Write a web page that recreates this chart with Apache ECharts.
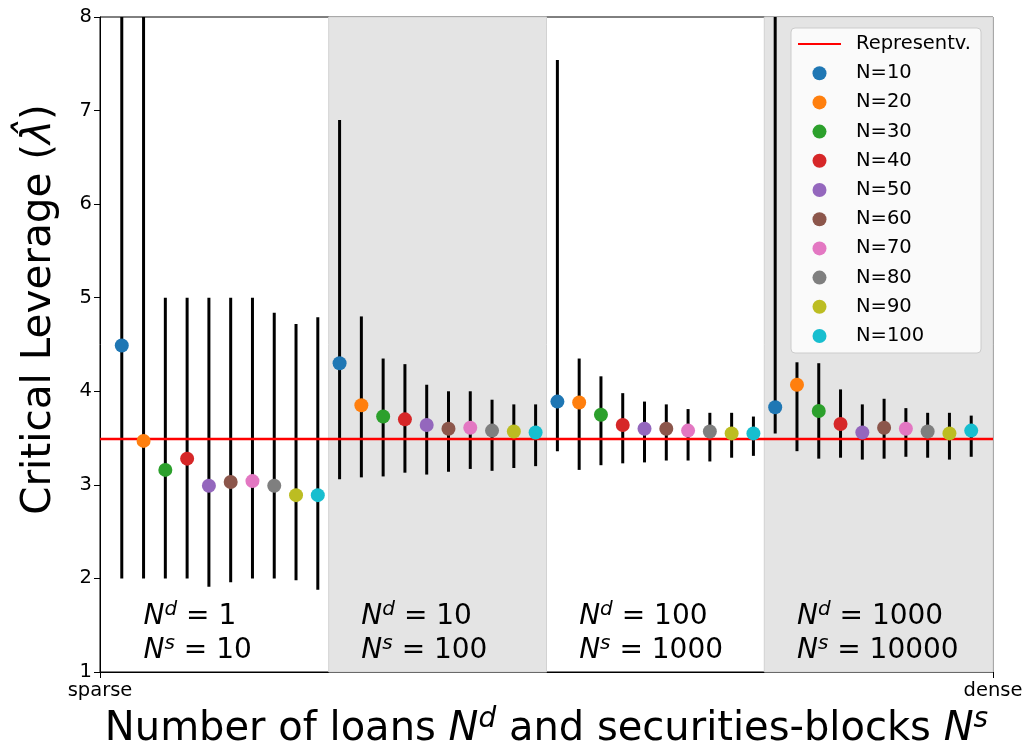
<!DOCTYPE html>
<html>
<head>
<meta charset="utf-8">
<script src="https://cdn.jsdelivr.net/npm/echarts@6/dist/echarts.min.js"></script>
<style>
  html, body { margin: 0; padding: 0; background: #ffffff; }
  #chart { width: 1023px; height: 749px; }
</style>
</head>
<body>
<div id="chart"></div>
<script>
// Ensemble sizes shown in every group, with their marker colours
const seriesNames = ['N=10', 'N=20', 'N=30', 'N=40', 'N=50', 'N=60', 'N=70', 'N=80', 'N=90', 'N=100'];
const seriesColors = ['#1f77b4', '#ff7f0e', '#2ca02c', '#d62728', '#9467bd',
                      '#8c564b', '#e377c2', '#7f7f7f', '#bcbd22', '#17becf'];

// Network configurations, from sparse to dense
const groupNd = ['1', '10', '100', '1000'];
const groupNs = ['10', '100', '1000', '10000'];

// Representative critical leverage
const representative = 3.49;

// Critical leverage per group: centre value, lower and upper end of the spread
const meanG1 = [4.49, 3.47, 3.16, 3.28, 2.99, 3.03, 3.04, 2.99, 2.89, 2.89];
const lowG1  = [2.00, 2.00, 2.00, 2.00, 1.91, 1.96, 2.00, 2.00, 1.98, 1.88];
const highG1 = [10.0, 10.0, 5.00, 5.00, 5.00, 5.00, 5.00, 4.84, 4.72, 4.79];

const meanG2 = [4.30, 3.85, 3.73, 3.70, 3.64, 3.60, 3.61, 3.58, 3.57, 3.56];
const lowG2  = [3.06, 3.08, 3.09, 3.13, 3.11, 3.14, 3.17, 3.15, 3.18, 3.20];
const highG2 = [6.90, 4.80, 4.35, 4.29, 4.07, 4.00, 4.00, 3.91, 3.86, 3.86];

const meanG3 = [3.89, 3.88, 3.75, 3.64, 3.60, 3.60, 3.58, 3.57, 3.55, 3.55];
const lowG3  = [3.36, 3.16, 3.21, 3.23, 3.24, 3.26, 3.26, 3.25, 3.29, 3.31];
const highG3 = [7.54, 4.35, 4.16, 3.98, 3.89, 3.86, 3.81, 3.77, 3.77, 3.73];

const meanG4 = [3.83, 4.07, 3.79, 3.65, 3.56, 3.61, 3.60, 3.57, 3.55, 3.58];
const lowG4  = [3.55, 3.36, 3.28, 3.29, 3.27, 3.28, 3.30, 3.29, 3.27, 3.30];
const highG4 = [10.0, 4.31, 4.30, 4.02, 3.86, 3.92, 3.82, 3.77, 3.77, 3.74];

// Axis labels
const xTickLabels = ['sparse', 'dense'];
const yTicks = [1, 2, 3, 4, 5, 6, 7, 8];

const means = [meanG1, meanG2, meanG3, meanG4];
const lows = [lowG1, lowG2, lowG3, lowG4];
const highs = [highG1, highG2, highG3, highG4];

// Each group occupies ten slots on the x axis; slot 0 and the last slot are the axis ends
const perGroup = seriesNames.length;
const xMax = groupNd.length * perGroup + 1;
const slot = (g, k) => g * perGroup + k + 1;

// Alternate groups get a grey band
const bands = [];
groupNd.forEach((_, g) => {
  if (g % 2 === 1) {
    const a = slot(g, 0) - 0.5;
    const b = g === groupNd.length - 1 ? xMax : slot(g, perGroup - 1) + 0.5;
    bands.push([{ xAxis: a }, { xAxis: b }]);
  }
});

const errData = [];
means.forEach((m, g) => m.forEach((_, k) => errData.push([slot(g, k), lows[g][k], highs[g][k]])));

const FONT = 'DejaVu Sans';

const scatterSeries = seriesNames.map((name, k) => ({
  name: name,
  type: 'scatter',
  symbol: 'circle',
  symbolSize: 14,
  z: 4,
  itemStyle: { color: seriesColors[k], opacity: 1 },
  data: means.map((m, g) => [slot(g, k), m[k]])
}));

const chart = echarts.init(document.getElementById('chart'), null, { renderer: 'canvas' });

chart.setOption({
  animation: false,
  backgroundColor: '#ffffff',
  grid: {
    left: 100, right: 30, top: 17, bottom: 77,
    outerBoundsMode: 'none', containLabel: false,
    show: true, borderColor: '#000000', borderWidth: 1, backgroundColor: 'transparent'
  },
  legend: {
    orient: 'vertical',
    left: 791, top: 28,
    data: [{ name: 'Representv.', itemStyle: { opacity: 0 } }].concat(seriesNames),
    itemWidth: 43, itemHeight: 14, itemGap: 9.2,
    padding: [6, 10, 7, 6],
    backgroundColor: 'rgba(255,255,255,0.8)',
    borderColor: '#cccccc', borderWidth: 1, borderRadius: 4,
    textStyle: { fontFamily: FONT, fontSize: 19.5, color: '#000000', padding: [0, 0, 0, 10] },
    selectedMode: false
  },
  xAxis: {
    type: 'value', min: 0, max: xMax, interval: xMax,
    name: 'Number of loans {it|N}{sup|d} and securities-blocks {it|N}{sup|s}',
    nameLocation: 'middle', nameGap: 25,
    nameTextStyle: {
      fontFamily: FONT, fontSize: 40, color: '#000000',
      rich: {
        it: { fontFamily: FONT, fontSize: 40, fontStyle: 'italic', color: '#000000', lineHeight: 47 },
        sup: { fontFamily: FONT, fontSize: 28, fontStyle: 'italic', color: '#000000', lineHeight: 28, verticalAlign: 'top' }
      }
    },
    axisLine: { show: true, lineStyle: { color: '#000000', width: 1 } },
    axisTick: { show: true, length: 6, lineStyle: { color: '#000000', width: 1 } },
    axisLabel: {
      fontFamily: FONT, fontSize: 19.5, color: '#000000', margin: 9,
      formatter: v => (v === 0 ? xTickLabels[0] : xTickLabels[1])
    },
    splitLine: { show: false }
  },
  yAxis: {
    type: 'value', min: yTicks[0], max: yTicks[yTicks.length - 1], interval: 1,
    name: 'Critical Leverage ({it|\u03bb\u0302})',
    nameLocation: 'middle', nameGap: 40, nameRotate: 90,
    nameTextStyle: {
      fontFamily: FONT, fontSize: 40.5, color: '#000000', padding: [0, 0, 0, 70],
      rich: {
        it: { fontFamily: FONT, fontSize: 40.5, fontStyle: 'italic', color: '#000000' }
      }
    },
    axisLine: { show: true, lineStyle: { color: '#000000', width: 1 } },
    axisTick: { show: true, length: 6, lineStyle: { color: '#000000', width: 1 } },
    axisLabel: { fontFamily: FONT, fontSize: 19.5, color: '#000000', margin: 8 },
    splitLine: { show: false }
  },
  series: [
    {
      // grey bands behind alternate groups
      name: 'bands', type: 'line', data: [], z: 1, silent: true,
      markArea: {
        silent: true,
        itemStyle: { color: '#e4e4e4', borderColor: '#d2d2d2', borderWidth: 1 },
        data: bands
      }
    },
    {
      // spread of each estimate
      name: 'spread', type: 'custom', z: 2, silent: true,
      encode: { x: 0, y: [1, 2] },
      data: errData,
      renderItem: (params, api) => {
        const x = api.value(0);
        const p1 = api.coord([x, api.value(1)]);
        const p2 = api.coord([x, api.value(2)]);
        const cs = params.coordSys;
        const clampY = y => Math.max(cs.y, Math.min(cs.y + cs.height, y));
        return {
          type: 'line',
          shape: { x1: p1[0], y1: clampY(p1[1]), x2: p2[0], y2: clampY(p2[1]) },
          style: { stroke: '#000000', lineWidth: 3 }
        };
      }
    },
    {
      name: 'Representv.', type: 'line', z: 3, symbol: 'none', silent: true,
      lineStyle: { color: '#ff0000', width: 2.4 },
      itemStyle: { color: '#ff0000' },
      data: [[0, representative], [xMax, representative]]
    },
    ...scatterSeries,
    {
      // configuration labels at the foot of each group
      name: 'config', type: 'custom', z: 5, silent: true,
      data: groupNd.map((_, g) => [slot(g, 1), yTicks[0]]),
      renderItem: (params, api) => {
        const p = api.coord([api.value(0), api.value(1)]);
        const i = params.dataIndex;
        return {
          type: 'text',
          x: p[0], y: p[1] - 4,
          style: {
            text: '{it|N}{sup|d}{rm| = ' + groupNd[i] + '}\n{it|N}{sup|s}{rm| = ' + groupNs[i] + '}',
            align: 'left', verticalAlign: 'bottom',
            fontFamily: FONT, fontSize: 28, fill: '#000000',
            rich: {
              it: { fontFamily: FONT, fontSize: 28, fontStyle: 'italic', fill: '#000000', lineHeight: 34 },
              sup: { fontFamily: FONT, fontSize: 20, fontStyle: 'italic', fill: '#000000', lineHeight: 18, verticalAlign: 'top' },
              rm: { fontFamily: FONT, fontSize: 28, fill: '#000000', lineHeight: 34 }
            }
          }
        };
      }
    }
  ]
});
</script>
</body>
</html>
